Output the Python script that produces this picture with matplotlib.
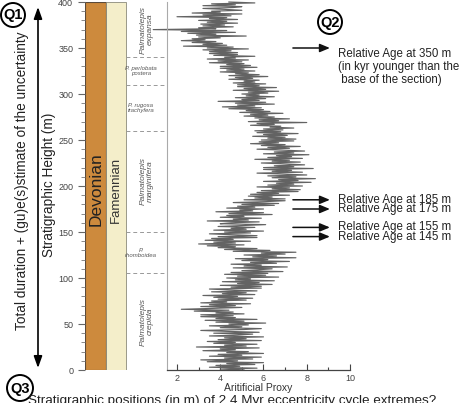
import numpy as np
import matplotlib
matplotlib.use('Agg')
import matplotlib.pyplot as plt
from matplotlib.patches import Circle

plt.rcParams['font.family'] = ['Liberation Sans', 'DejaVu Sans']

# artificial proxy, one value per metre from 0 to 400 m
proxy = [
    5.1, 4.0, 5.7, 3.5, 4.9, 3.8, 5.6, 4.3, 6.0, 3.4,
    4.8, 3.1, 5.5, 4.2, 5.9, 3.5, 5.0, 3.9, 6.0, 4.3,
    5.3, 3.2, 4.7, 4.0, 5.8, 2.9, 5.2, 4.2, 5.7, 3.7,
    4.7, 3.4, 5.9, 3.9, 5.2, 4.2, 6.0, 3.5, 4.8, 5.5,
    3.7, 5.8, 4.3, 3.1, 5.1, 5.9, 4.0, 5.0, 3.5, 5.3,
    4.4, 6.1, 3.8, 5.1, 3.3, 5.7, 3.8, 4.7, 3.1, 4.6,
    3.1, 5.1, 3.8, 4.6, 2.8, 4.4, 2.2, 3.7, 5.0, 3.1,
    4.7, 3.5, 5.4, 3.1, 4.3, 3.6, 5.2, 3.9, 5.5, 3.7,
    4.8, 3.2, 5.6, 4.1, 5.2, 3.6, 5.7, 4.4, 3.5, 5.9,
    4.5, 5.9, 4.0, 6.4, 4.8, 5.8, 4.1, 6.5, 4.7, 5.4,
    4.3, 6.7, 4.8, 6.1, 4.2, 6.2, 4.5, 6.9, 5.0, 5.8,
    6.4, 4.6, 7.1, 5.1, 5.9, 4.5, 6.6, 5.4, 7.2, 5.0,
    6.2, 4.7, 7.5, 5.5, 6.6, 5.1, 7.0, 5.9, 7.5, 4.6,
    6.3, 4.2, 5.7, 3.9, 4.7, 3.4, 5.1, 3.0, 4.7, 3.7,
    5.4, 3.3, 4.6, 3.6, 5.7, 3.9, 5.7, 4.6, 3.5, 5.4,
    4.2, 6.0, 3.7, 5.2, 4.5, 5.6, 3.9, 5.0, 6.1, 4.0,
    4.5, 5.8, 3.4, 5.3, 4.6, 5.9, 4.0, 5.1, 4.3, 6.4,
    4.4, 6.0, 3.8, 5.5, 4.9, 6.0, 4.3, 5.6, 4.8, 6.5,
    5.0, 6.7, 4.6, 6.1, 7.0, 5.1, 7.0, 5.6, 6.4, 5.3,
    7.2, 5.4, 6.7, 5.7, 7.6, 5.9, 7.7, 6.4, 7.2, 5.7,
    7.8, 6.2, 7.4, 6.6, 8.2, 6.0, 7.6, 6.7, 8.4, 6.4,
    7.5, 6.2, 8.0, 6.8, 5.7, 7.8, 6.4, 7.3, 6.0, 8.3,
    6.0, 7.4, 6.5, 7.9, 7.0, 5.9, 7.7, 6.4, 7.2, 5.6,
    7.8, 6.2, 7.3, 6.6, 8.1, 6.0, 7.4, 6.5, 7.9, 6.9,
    5.7, 7.2, 6.2, 7.7, 5.9, 7.0, 5.4, 6.7, 5.8, 7.4,
    5.9, 7.5, 6.2, 7.0, 5.5, 7.1, 6.0, 7.6, 5.7, 6.8,
    5.6, 6.9, 6.0, 7.4, 6.3, 6.8, 5.4, 6.5, 5.7, 8.0,
    5.3, 6.7, 5.8, 7.2, 5.6, 6.5, 5.1, 6.2, 5.4, 6.9,
    4.9, 6.3, 5.2, 6.0, 4.4, 5.9, 4.1, 5.6, 4.8, 6.5,
    4.7, 6.1, 3.9, 5.8, 5.0, 6.1, 4.7, 6.5, 5.2, 5.8,
    5.0, 6.2, 5.3, 6.7, 4.6, 6.1, 5.1, 6.6, 4.8, 5.8,
    4.8, 6.1, 4.6, 5.6, 5.1, 5.8, 4.4, 5.5, 4.7, 6.2,
    4.4, 5.8, 4.7, 5.3, 4.0, 5.6, 4.3, 5.1, 4.0, 5.7,
    4.0, 5.4, 4.3, 5.1, 3.5, 5.0, 3.9, 5.3, 3.4, 4.7,
    4.2, 5.6, 3.7, 4.8, 3.5, 4.8, 3.5, 4.5, 3.2, 5.3,
    3.4, 4.6, 2.3, 4.3, 3.2, 4.1, 2.7, 3.8, 2.2, 3.3,
    2.7, 4.0, 3.0, 5.2, 2.9, 3.8, 2.5, 4.7, 2.2, 4.3,
    0.9, 3.8, 3.0, 4.6, 3.2, 4.2, 3.1, 4.8, 3.4, 4.3,
    3.0, 4.8, 3.5, 4.3, 2.0, 4.5, 3.2, 5.0, 2.7, 4.0,
    3.6, 5.0, 4.2, 3.2, 4.6, 5.0, 3.2, 4.7, 3.6, 5.6,
    4.4,
]
height = np.arange(len(proxy))

zone_bounds = [0, 105, 150, 260, 310, 340, 400]
zone_names = ['Palmatolepis\ncrepida', 'P.\nrhomboidea', 'Palmatolepis\nmarginifera',
              'P. rugosa\ntrachyfera', 'P. perlobata\npostera', 'Palmatolepis\nexpansa']
age_heights = [350, 185, 175, 155, 145]
age_labels = ['Relative Age at 350 m\n(in kyr younger than the\n base of the section)',
              'Relative Age at 185 m', 'Relative Age at 175 m',
              'Relative Age at 155 m', 'Relative Age at 145 m']

W, H = 462, 403
fig = plt.figure(figsize=(W / 100, H / 100), dpi=100)

def box(x0, y0, x1, y1):
    return [x0 / W, 1 - y1 / H, (x1 - x0) / W, (y1 - y0) / H]

# stratigraphic columns
ax_s = fig.add_axes(box(85, 2, 167, 370))
ax_s.set_xlim(85, 167)
ax_s.set_ylim(0, 400)
ax_s.bar(85, 400, width=21, align='edge', color='#CD8A3D', edgecolor='#5a4a3a', lw=0.8)
ax_s.bar(106, 400, width=20, align='edge', color='#F4EECA', edgecolor='#8a8a7a', lw=0.6)
ax_s.text(96, 197, 'Devonian', rotation=90, ha='center', va='center', fontsize=12.5, color='#222')
ax_s.text(116, 196, 'Famennian', rotation=90, ha='center', va='center', fontsize=9.5, color='#333')
ax_s.hlines(zone_bounds[1:-1], 126, 167, colors='#999', linestyles=(0, (4, 3)), lw=0.7)
for lo, hi, name in zip(zone_bounds[:-1], zone_bounds[1:], zone_names):
    mid = (lo + hi) / 2
    if name.startswith('Palmatolepis'):
        ax_s.text(147, mid, name, rotation=90, ha='center', va='center', fontsize=6,
                  style='italic', color='#555', linespacing=1.0)
    else:
        ax_s.text(141, mid, name, ha='center', va='center', fontsize=4.3,
                  style='italic', color='#555', linespacing=1.1)
for sp in ax_s.spines.values():
    sp.set_visible(False)
ax_s.set_xticks([])
ax_s.set_yticks(np.arange(0, 401, 50))
ax_s.set_yticks(np.arange(0, 401, 10), minor=True)
ax_s.tick_params(axis='y', which='major', length=5, width=0.8, color='#666',
                 labelsize=6.5, labelcolor='#444', pad=3.5)
ax_s.tick_params(axis='y', which='minor', length=3, width=0.6, color='#777')

# proxy
ax_p = fig.add_axes(box(167, 2, 350, 370))
ax_p.patch.set_alpha(0)
ax_p.plot(proxy, height, color='#636363', lw=0.85, clip_on=False)
ax_p.set_xlim(1.538, 10)
ax_p.set_ylim(0, 400)
ax_p.spines['top'].set_visible(False)
ax_p.spines['right'].set_visible(False)
ax_p.spines['left'].set_color('#aaa')
ax_p.spines['left'].set_linewidth(0.8)
ax_p.spines['bottom'].set_color('#444')
ax_p.spines['bottom'].set_linewidth(0.9)
ax_p.set_yticks([])
ax_p.set_xticks([2, 4, 6, 8, 10])
ax_p.set_xticks([3, 5, 7, 9], minor=True)
ax_p.tick_params(axis='x', which='both', direction='in', color='#444', width=0.8)
ax_p.tick_params(axis='x', which='major', length=4, labelsize=6.5, labelcolor='#444', pad=3)
ax_p.tick_params(axis='x', which='minor', length=2.5)
ax_p.set_xlabel('Aritificial Proxy', fontsize=7.5, color='#333', labelpad=0)

for h, lab in zip(age_heights, age_labels):
    ax_p.annotate('', xy=(9.07, h), xytext=(7.36, h), annotation_clip=False,
                  arrowprops=dict(arrowstyle='-|>,head_length=0.6,head_width=0.25',
                                  color='#111', lw=1.1, shrinkA=0, shrinkB=0))
    ax_p.text(9.44, h, lab, ha='left', va='top' if '\n' in lab else 'center',
              fontsize=8.3, color='#222', clip_on=False, linespacing=1.1)

# overlay in pixel units
ax_o = fig.add_axes([0, 0, 1, 1])
ax_o.set_xlim(0, W)
ax_o.set_ylim(H, 0)
ax_o.axis('off')
ax_o.patch.set_alpha(0)
ax_o.annotate('', xy=(38, 7), xytext=(38, 368),
              arrowprops=dict(arrowstyle='<|-|>,head_length=0.7,head_width=0.25',
                              color='k', lw=1.2, shrinkA=0, shrinkB=0))
ax_o.text(22, 181, 'Total duration + (gu)e(s)stimate of the uncertainty', rotation=90,
          ha='center', va='center', fontsize=9.8, color='#222')
ax_o.text(49, 185, 'Stratigraphic Height (m)', rotation=90, ha='center', va='center',
          fontsize=9.8, color='#222')
for (cx, cy, r), q in zip([(13, 15, 12), (330, 22, 12), (20, 388, 13)], ['Q1', 'Q2', 'Q3']):
    ax_o.add_patch(Circle((cx, cy), r, fc='white', ec='k', lw=1.4))
    ax_o.text(cx, cy + 0.5, q, ha='center', va='center', fontsize=10.5, fontweight='bold')
ax_o.text(28, 395, 'Stratigraphic positions (in m) of 2.4 Myr eccentricity cycle extremes?',
          ha='left', va='top', fontsize=9.7, color='#222')

fig.savefig('out.png', dpi=100)
